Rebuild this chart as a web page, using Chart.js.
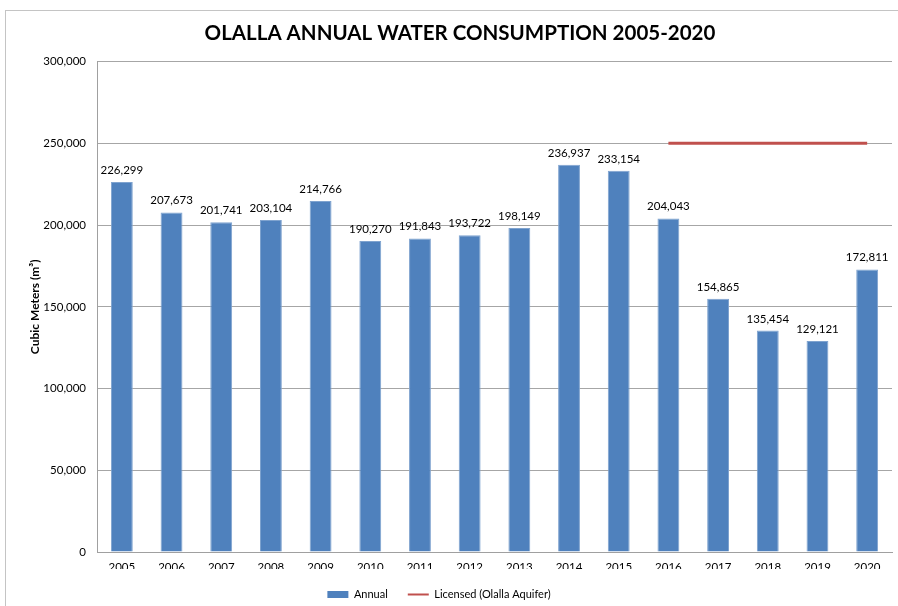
<!DOCTYPE html>
<html>
<head>
<meta charset="utf-8">
<script src="https://cdn.jsdelivr.net/npm/chart.js@4/dist/chart.umd.min.js"></script>
<style>
    html, body { margin: 0; padding: 0; background: #fff; }
    #wrap { position: relative; width: 898px; height: 606px; overflow: hidden; }
    #frame { position: absolute; left: 5px; top: 10px; width: 900px; height: 600px; border: 1px solid #c4c4c4; }
    #chart { position: absolute; left: 0; top: 0; }
</style>
</head>
<body>
<div id="wrap">
    <div id="frame"></div>
    <canvas id="chart" width="898" height="606"></canvas>
</div>
<script>
const years = ["2005", "2006", "2007", "2008", "2009", "2010", "2011", "2012",
               "2013", "2014", "2015", "2016", "2017", "2018", "2019", "2020"];
const annual = [226299, 207673, 201741, 203104, 214766, 190270, 191843, 193722,
                198149, 236937, 233154, 204043, 154865, 135454, 129121, 172811];
const licensed = [null, null, null, null, null, null, null, null,
                  null, null, null, 250000, 250000, 250000, 250000, 250000];
const yTicks = [0, 50000, 100000, 150000, 200000, 250000, 300000];

const FONT = "Lato, 'Open Sans', sans-serif";
const fmt = v => v.toLocaleString("en-US");

// value labels above each bar
const barLabels = {
    id: "barLabels",
    afterDatasetsDraw(chart) {
        const ctx = chart.ctx;
        const meta = chart.getDatasetMeta(1);
        ctx.save();
        ctx.font = "11.5px " + FONT;
        ctx.fillStyle = "#000";
        ctx.textAlign = "center";
        ctx.textBaseline = "bottom";
        meta.data.forEach((bar, i) => {
            ctx.fillText(fmt(annual[i]), bar.x, bar.y - 6);
        });
        ctx.restore();
    }
};

// keep the legend compact and a bit left of centre, like the original
const legendBox = {
    id: "legendBox",
    beforeLayout(chart) {
        const lg = chart.legend;
        if (lg && !lg._fixed) {
            const fit = lg.fit;
            lg.fit = function () { fit.call(this); this.height = 37; };
            lg._fixed = true;
        }
    },
    afterLayout(chart) {
        const lg = chart.legend;
        lg.left -= 21;
        lg.right -= 21;
    }
};

new Chart(document.getElementById("chart").getContext("2d"), {
    data: {
        labels: years,
        datasets: [
            {
                type: "line",
                label: "Licensed (Olalla Aquifer)",
                data: licensed,
                borderColor: "#C0504D",
                borderWidth: 3,
                pointRadius: 0,
                spanGaps: false,
                order: 0
            },
            {
                type: "bar",
                label: "Annual",
                data: annual,
                backgroundColor: "#4F81BD",
                borderColor: "#7fa3cf",
                borderWidth: 1,
                barPercentage: 0.88,
                categoryPercentage: 0.5,
                order: 1
            }
        ]
    },
    options: {
        responsive: false,
        animation: false,
        layout: { padding: { left: 28, right: 6, top: 0, bottom: 0 } },
        scales: {
            x: {
                afterFit(scale) { scale.height = 17; },
                grid: { display: false, drawTicks: false },
                border: { color: "#a0a0a0" },
                ticks: { color: "#000", font: { family: FONT, size: 11.5 }, padding: 8, maxRotation: 0 }
            },
            y: {
                min: 0,
                max: 300000,
                afterFit(scale) { scale.width = 69; },
                afterBuildTicks(scale) { scale.ticks = yTicks.map(v => ({ value: v })); },
                grid: { color: "#a6a6a6", drawTicks: false },
                border: { color: "#a0a0a0" },
                ticks: { color: "#000", font: { family: FONT, size: 11.5 }, padding: 11, callback: v => fmt(v) },
                title: {
                    display: true,
                    text: "Cubic Meters (m³)",
                    color: "#000",
                    font: { family: FONT, size: 12, weight: "bold" },
                    padding: 0
                }
            }
        },
        plugins: {
            title: {
                display: true,
                text: "OLALLA ANNUAL WATER CONSUMPTION 2005-2020",
                color: "#000",
                font: { family: FONT, size: 20.5, weight: "bold" },
                padding: { top: 21, bottom: 16 }
            },
            legend: {
                position: "bottom",
                labels: {
                    color: "#000",
                    font: { family: FONT, size: 11 },
                    usePointStyle: true,
                    pointStyleWidth: 21,
                    boxHeight: 7,
                    padding: 20,
                    generateLabels() {
                        return [
                            { text: "Annual", fillStyle: "#4F81BD", strokeStyle: "#4F81BD", lineWidth: 0, pointStyle: "rect", datasetIndex: 1 },
                            { text: "Licensed (Olalla Aquifer)", fillStyle: "#C0504D", strokeStyle: "#C0504D", lineWidth: 2, pointStyle: "line", datasetIndex: 0 }
                        ];
                    }
                }
            },
            tooltip: { enabled: false }
        }
    },
    plugins: [barLabels, legendBox]
});
</script>
</body>
</html>
